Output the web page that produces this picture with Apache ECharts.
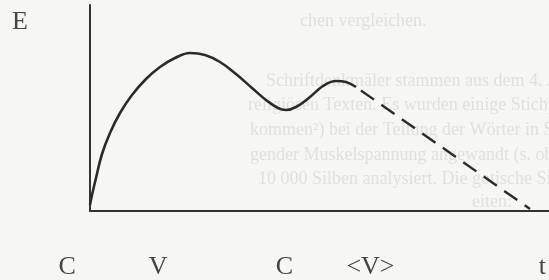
<!DOCTYPE html>
<html>
<head>
<meta charset="utf-8">
<script src="https://cdn.jsdelivr.net/npm/echarts@6/dist/echarts.min.js"></script>
<style>
  html, body { margin: 0; padding: 0; background: #f6f6f4; }
  #chart { width: 549px; height: 280px; }
</style>
</head>
<body>
<div id="chart"></div>
<script>
// curve, x/y measured from the origin corner
const solidX = [0, 2, 6, 12, 20, 30, 42, 56, 70, 85, 100, 115, 130, 146, 162, 176, 188, 196, 206, 220, 233, 246, 256, 266];
const solidY = [6, 16, 33, 57, 78, 98, 116, 132, 144, 153, 158, 156, 149, 137, 123, 111, 103, 101, 104, 114, 125, 130, 129, 124];
const dashX = [266, 440];
const dashY = [124, 2];

// labels under the time axis (page x position)
const phaseLabels = ['C', 'V', 'C', '<V>', 't'];
const phasePos = [68, 160, 288, 375, 549];

// faint text showing through from the other side of the page
const ghostLines = [
  'chen vergleichen.',
  'Schriftdenkmäler stammen aus dem 4. Jh. und',
  'religiösen Texten. Es wurden einige Stichproben',
  'kommen²) bei der Teilung der Wörter in Silben wurd',
  'gender Muskelspannung angewandt (s. oben rumisch',
  '10 000 Silben analysiert. Die gotische Silbenstr',
  'eiten:'
];
const ghostX = [300, 266, 248, 250, 250, 258, 472];
const ghostY = [22, 82, 106, 131, 156, 180, 203];

const chart = echarts.init(document.getElementById('chart'));

const serif = 'Liberation Serif';
const ink = '#333';

const option = {
  backgroundColor: '#f6f6f4',
  animation: false,
  graphic: ghostLines.map((t, i) => ({
    type: 'text',
    z: -10,
    silent: true,
    left: ghostX[i],
    top: ghostY[i] - 10,
    style: { text: t, font: '18px "Liberation Serif"', fill: '#e0e0e0' }
  })),
  grid: [
    { left: 90, right: 0, top: 5, bottom: 69 },
    { left: 0, right: 0, top: 5, bottom: 69 }
  ],
  xAxis: [
    {
      type: 'value', gridIndex: 0, min: 0, max: 459,
      axisLine: { show: true, onZero: false, lineStyle: { color: ink, width: 2 } },
      axisTick: { show: false }, axisLabel: { show: false }, splitLine: { show: false }
    },
    {
      type: 'value', gridIndex: 1, min: 0, max: 549,
      axisLine: { show: false }, axisTick: { show: false }, splitLine: { show: false },
      axisLabel: {
        customValues: phasePos,
        showMaxLabel: true,
        margin: 44,
        fontFamily: serif,
        fontSize: 26,
        color: '#444',
        formatter: v => phaseLabels[phasePos.indexOf(v)]
      }
    }
  ],
  yAxis: [
    {
      type: 'value', gridIndex: 0, min: 0, max: 206,
      name: 'E',
      nameLocation: 'end',
      nameGap: -17,
      nameTextStyle: {
        fontFamily: serif, fontSize: 26, color: '#444',
        align: 'right', verticalAlign: 'middle', padding: [0, 62, 0, 0]
      },
      axisLine: { show: true, onZero: false, lineStyle: { color: ink, width: 2 } },
      axisTick: { show: false }, axisLabel: { show: false }, splitLine: { show: false }
    },
    {
      type: 'value', gridIndex: 1, show: false
    }
  ],
  series: [
    {
      type: 'line',
      xAxisIndex: 0, yAxisIndex: 0,
      data: solidX.map((x, i) => [x, solidY[i]]),
      smooth: 0.4,
      symbol: 'none',
      lineStyle: { color: '#2b2b2b', width: 2.6 }
    },
    {
      type: 'line',
      xAxisIndex: 0, yAxisIndex: 0,
      data: dashX.map((x, i) => [x, dashY[i]]),
      symbol: 'none',
      lineStyle: { color: '#2b2b2b', width: 2.4, type: [16, 9], dashOffset: -6 }
    }
  ]
};

chart.setOption(option);
</script>
</body>
</html>
